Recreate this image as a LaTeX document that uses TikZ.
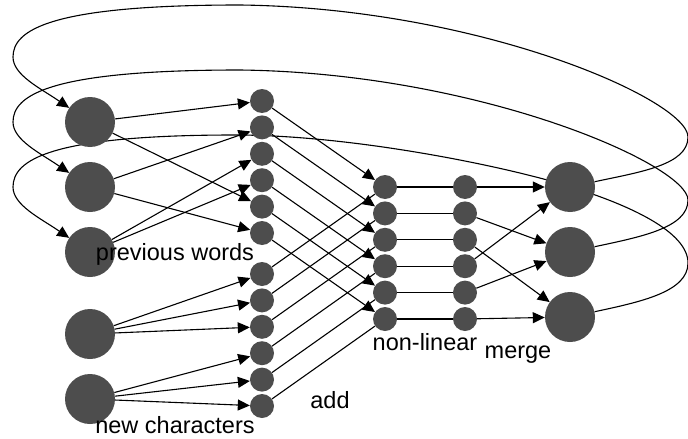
\documentclass[tikz,border=0pt]{standalone}
\usepackage{fontspec}
\setmainfont{Liberation Sans}
\usepackage{xcolor}
\definecolor{cNode}{HTML}{4D4D4D}
\usepackage{tikz}
\usetikzlibrary{positioning,arrows.meta,backgrounds}
\tikzset{
  node-big/.style={circle,fill=cNode,draw=none,minimum size=50pt,inner sep=0pt},
  node-small/.style={circle,fill=cNode,draw=none,minimum size=24pt,inner sep=0pt},
  arrow/.style={-{Triangle[length=12pt,width=11pt]},line width=1.1pt,draw=black},
  link/.style={line width=1.1pt,draw=black},
  feedback/.style={-{Triangle[length=12pt,width=11pt]},line width=1.1pt,draw=black},
  label-text/.style={font=\fontsize{23.5}{28}\selectfont,inner sep=0pt},
}

\begin{document}
\begin{tikzpicture}[x=1pt,y=-1pt,node distance=2pt]
  \useasboundingbox (0,0) rectangle (688,439);
  % inputs: previous words and new characters
  \node[node-big]                (w1)  at (90,122) {};
  \node[node-big]                (w2)  at (90,187) {};
  \node[node-big]                (w3)  at (90,252) {};
  \node[node-big]                (ch1) at (90,334) {};
  \node[node-big]                (ch2) at (90,399) {};
  % projected words
  \node[node-small]              (a1)  at (262,101) {};
  \node[node-small,below=of a1]  (a2)  {};
  \node[node-small,below=of a2]  (a3)  {};
  \node[node-small,below=of a3]  (a4)  {};
  \node[node-small,below=of a4]  (a5)  {};
  \node[node-small,below=of a5]  (a6)  {};
  % projected characters
  \node[node-small]              (b1)  at (262,274) {};
  \node[node-small,below=of b1]  (b2)  {};
  \node[node-small,below=of b2]  (b3)  {};
  \node[node-small,below=of b3]  (b4)  {};
  \node[node-small,below=of b4]  (b5)  {};
  \node[node-small,below=of b5]  (b6)  {};
  % sums
  \node[node-small]              (s1)  at (385,187) {};
  \node[node-small,below=of s1]  (s2)  {};
  \node[node-small,below=of s2]  (s3)  {};
  \node[node-small,below=of s3]  (s4)  {};
  \node[node-small,below=of s4]  (s5)  {};
  \node[node-small,below=of s5]  (s6)  {};
  % non-linear units
  \node[node-small]              (n1)  at (465,187) {};
  \node[node-small,below=of n1]  (n2)  {};
  \node[node-small,below=of n2]  (n3)  {};
  \node[node-small,below=of n3]  (n4)  {};
  \node[node-small,below=of n4]  (n5)  {};
  \node[node-small,below=of n5]  (n6)  {};
  % merged outputs
  \node[node-big]                (r1)  at (570,187) {};
  \node[node-big]                (r2)  at (570,252) {};
  \node[node-big]                (r3)  at (570,317) {};

  \draw[arrow] (w1) -- (a1);
  \draw[arrow] (w1) -- (a5);
  \draw[arrow] (w2) -- (a2);
  \draw[arrow] (w2) -- (a6);
  \draw[arrow] (w3) -- (a3);
  \draw[arrow] (w3) -- (a4);
  \draw[arrow] (ch1) -- (b1);
  \draw[arrow] (ch1) -- (b2);
  \draw[arrow] (ch1) -- (b3);
  \draw[arrow] (ch2) -- (b4);
  \draw[arrow] (ch2) -- (b5);
  \draw[arrow] (ch2) -- (b6);

  \draw[arrow] (a1) -- (s1);
  \draw[arrow] (a2) -- (s2);
  \draw[arrow] (a3) -- (s3);
  \draw[arrow] (a4) -- (s4);
  \draw[arrow] (a5) -- (s5);
  \draw[arrow] (a6) -- (s6);
  \draw[link]  (b1) -- (s1);
  \draw[link]  (b2) -- (s2);
  \draw[link]  (b3) -- (s3);
  \draw[link]  (b4) -- (s4);
  \draw[link]  (b5) -- (s5);
  \draw[link]  (b6) -- (s6);

  \draw[link]  (s1) -- (n1);
  \draw[link]  (s2) -- (n2);
  \draw[link]  (s3) -- (n3);
  \draw[link]  (s4) -- (n4);
  \draw[link]  (s5) -- (n5);
  \draw[link]  (s6) -- (n6);

  \draw[arrow] (n1) -- (r1);
  \draw[arrow] (n2) -- (r2);
  \draw[arrow] (n3) -- (r3);
  \draw[arrow] (n4) -- (r1);
  \draw[arrow] (n5) -- (r2);
  \draw[arrow] (n6) -- (r3);

  % recurrent connections, behind the circles
  \begin{scope}[on background layer]
    \draw[feedback] (r1) .. controls (640,172) and (688,165) .. (688,137)
      .. controls (688,100) and (480,8) .. (240,5)
      .. controls (50,5) and (13,30) .. (13,57)
      .. controls (13,75) and (40,88) .. (w1);
    \draw[feedback] (r2) .. controls (640,237) and (688,228) .. (688,200)
      .. controls (688,165) and (480,73) .. (240,70)
      .. controls (50,70) and (13,95) .. (13,122)
      .. controls (13,140) and (40,153) .. (w2);
    \draw[feedback] (r3) .. controls (640,302) and (688,292) .. (688,263)
      .. controls (688,232) and (630,205) .. (568,186)
      .. controls (500,165) and (350,135) .. (235,135)
      .. controls (50,135) and (13,160) .. (13,187)
      .. controls (13,205) and (40,218) .. (w3);
  \end{scope}

  \node[label-text] (lwords) at (175,254) {previous words};
  \node[label-text] (lchars) at (175,425) {new characters};
  \node[label-text] (ladd)   at (330,400) {add};
  \node[label-text] (lnonl)  at (425,342) {non-linear};
  \node[label-text] (lmerge) at (518,355) {merge};
\end{tikzpicture}
\end{document}
